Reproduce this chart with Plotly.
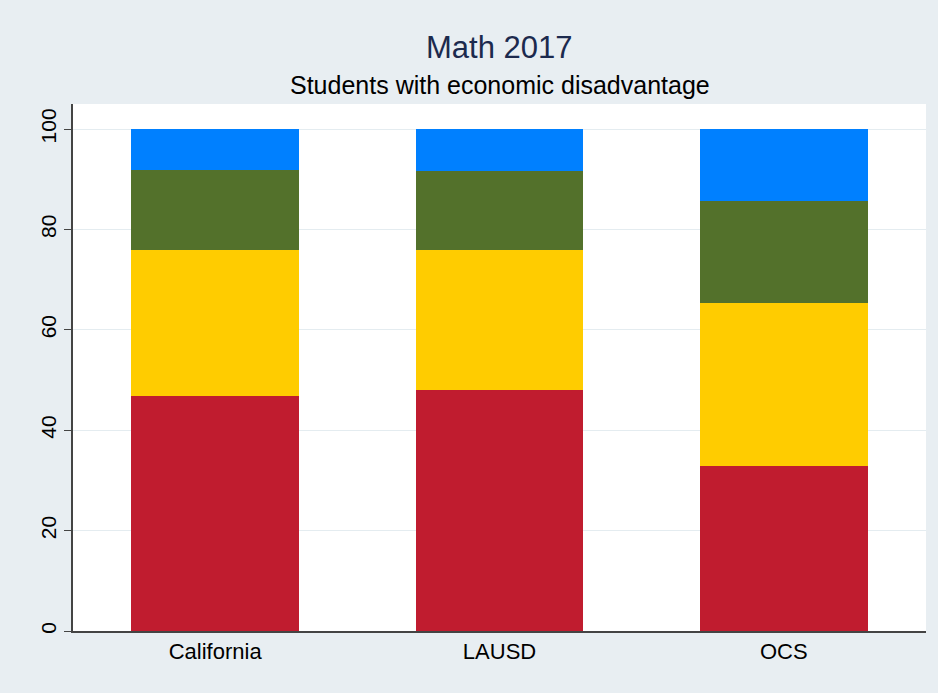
import plotly.graph_objects as go

categories = ["California", "LAUSD", "OCS"]
level1 = [46.8, 48.1, 32.8]   # red (bottom)
level2 = [29.0, 27.7, 32.6]   # yellow
level3 = [16.0, 15.8, 20.2]   # green
level4 = [8.2, 8.4, 14.4]     # blue (top)

series = [
    ("Level 1", level1, "#C01C2F"),
    ("Level 2", level2, "#FFCC00"),
    ("Level 3", level3, "#53712B"),
    ("Level 4", level4, "#0080FF"),
]

fig = go.Figure()
for name, vals, col in series:
    fig.add_trace(go.Bar(x=categories, y=vals, name=name,
                         marker=dict(color=col, line=dict(width=0))))

font_family = "Liberation Sans, Arial, Helvetica, sans-serif"

fig.update_layout(
    barmode="stack",
    bargap=0.41,
    width=938, height=693,
    margin=dict(l=73, r=12, t=104, b=62),
    paper_bgcolor="#E8EEF2",
    plot_bgcolor="#FFFFFF",
    showlegend=False,
    font=dict(family=font_family, color="#000000", size=21),
    annotations=[
        dict(text="Math 2017", xref="paper", yref="paper", x=0.5, y=1,
             yshift=57, yanchor="middle", showarrow=False,
             font=dict(size=31, color="#1C2A4E", family=font_family)),
        dict(text="Students with economic disadvantage", xref="paper", yref="paper",
             x=0.5, y=1, yshift=19, yanchor="middle", showarrow=False,
             font=dict(size=25, color="#000000", family=font_family)),
    ],
)

fig.update_yaxes(
    range=[0, 104.98],
    tickvals=[0, 20, 40, 60, 80, 100],
    tickangle=-90,
    ticks="outside", ticklen=7, tickcolor="#444444", tickwidth=1,
    showline=True, linecolor="#444444", linewidth=1.5,
    showgrid=True, gridcolor="#E4ECF0", gridwidth=1,
    zeroline=False,
    tickfont=dict(size=21),
)
fig.update_xaxes(
    showline=True, linecolor="#444444", linewidth=1.5,
    ticks="", showgrid=False,
    tickfont=dict(size=22),
)

fig.write_html(
    "out.html",
    config={"displayModeBar": False},
    post_script="document.body.style.margin='0';document.body.style.overflow='hidden';",
)
